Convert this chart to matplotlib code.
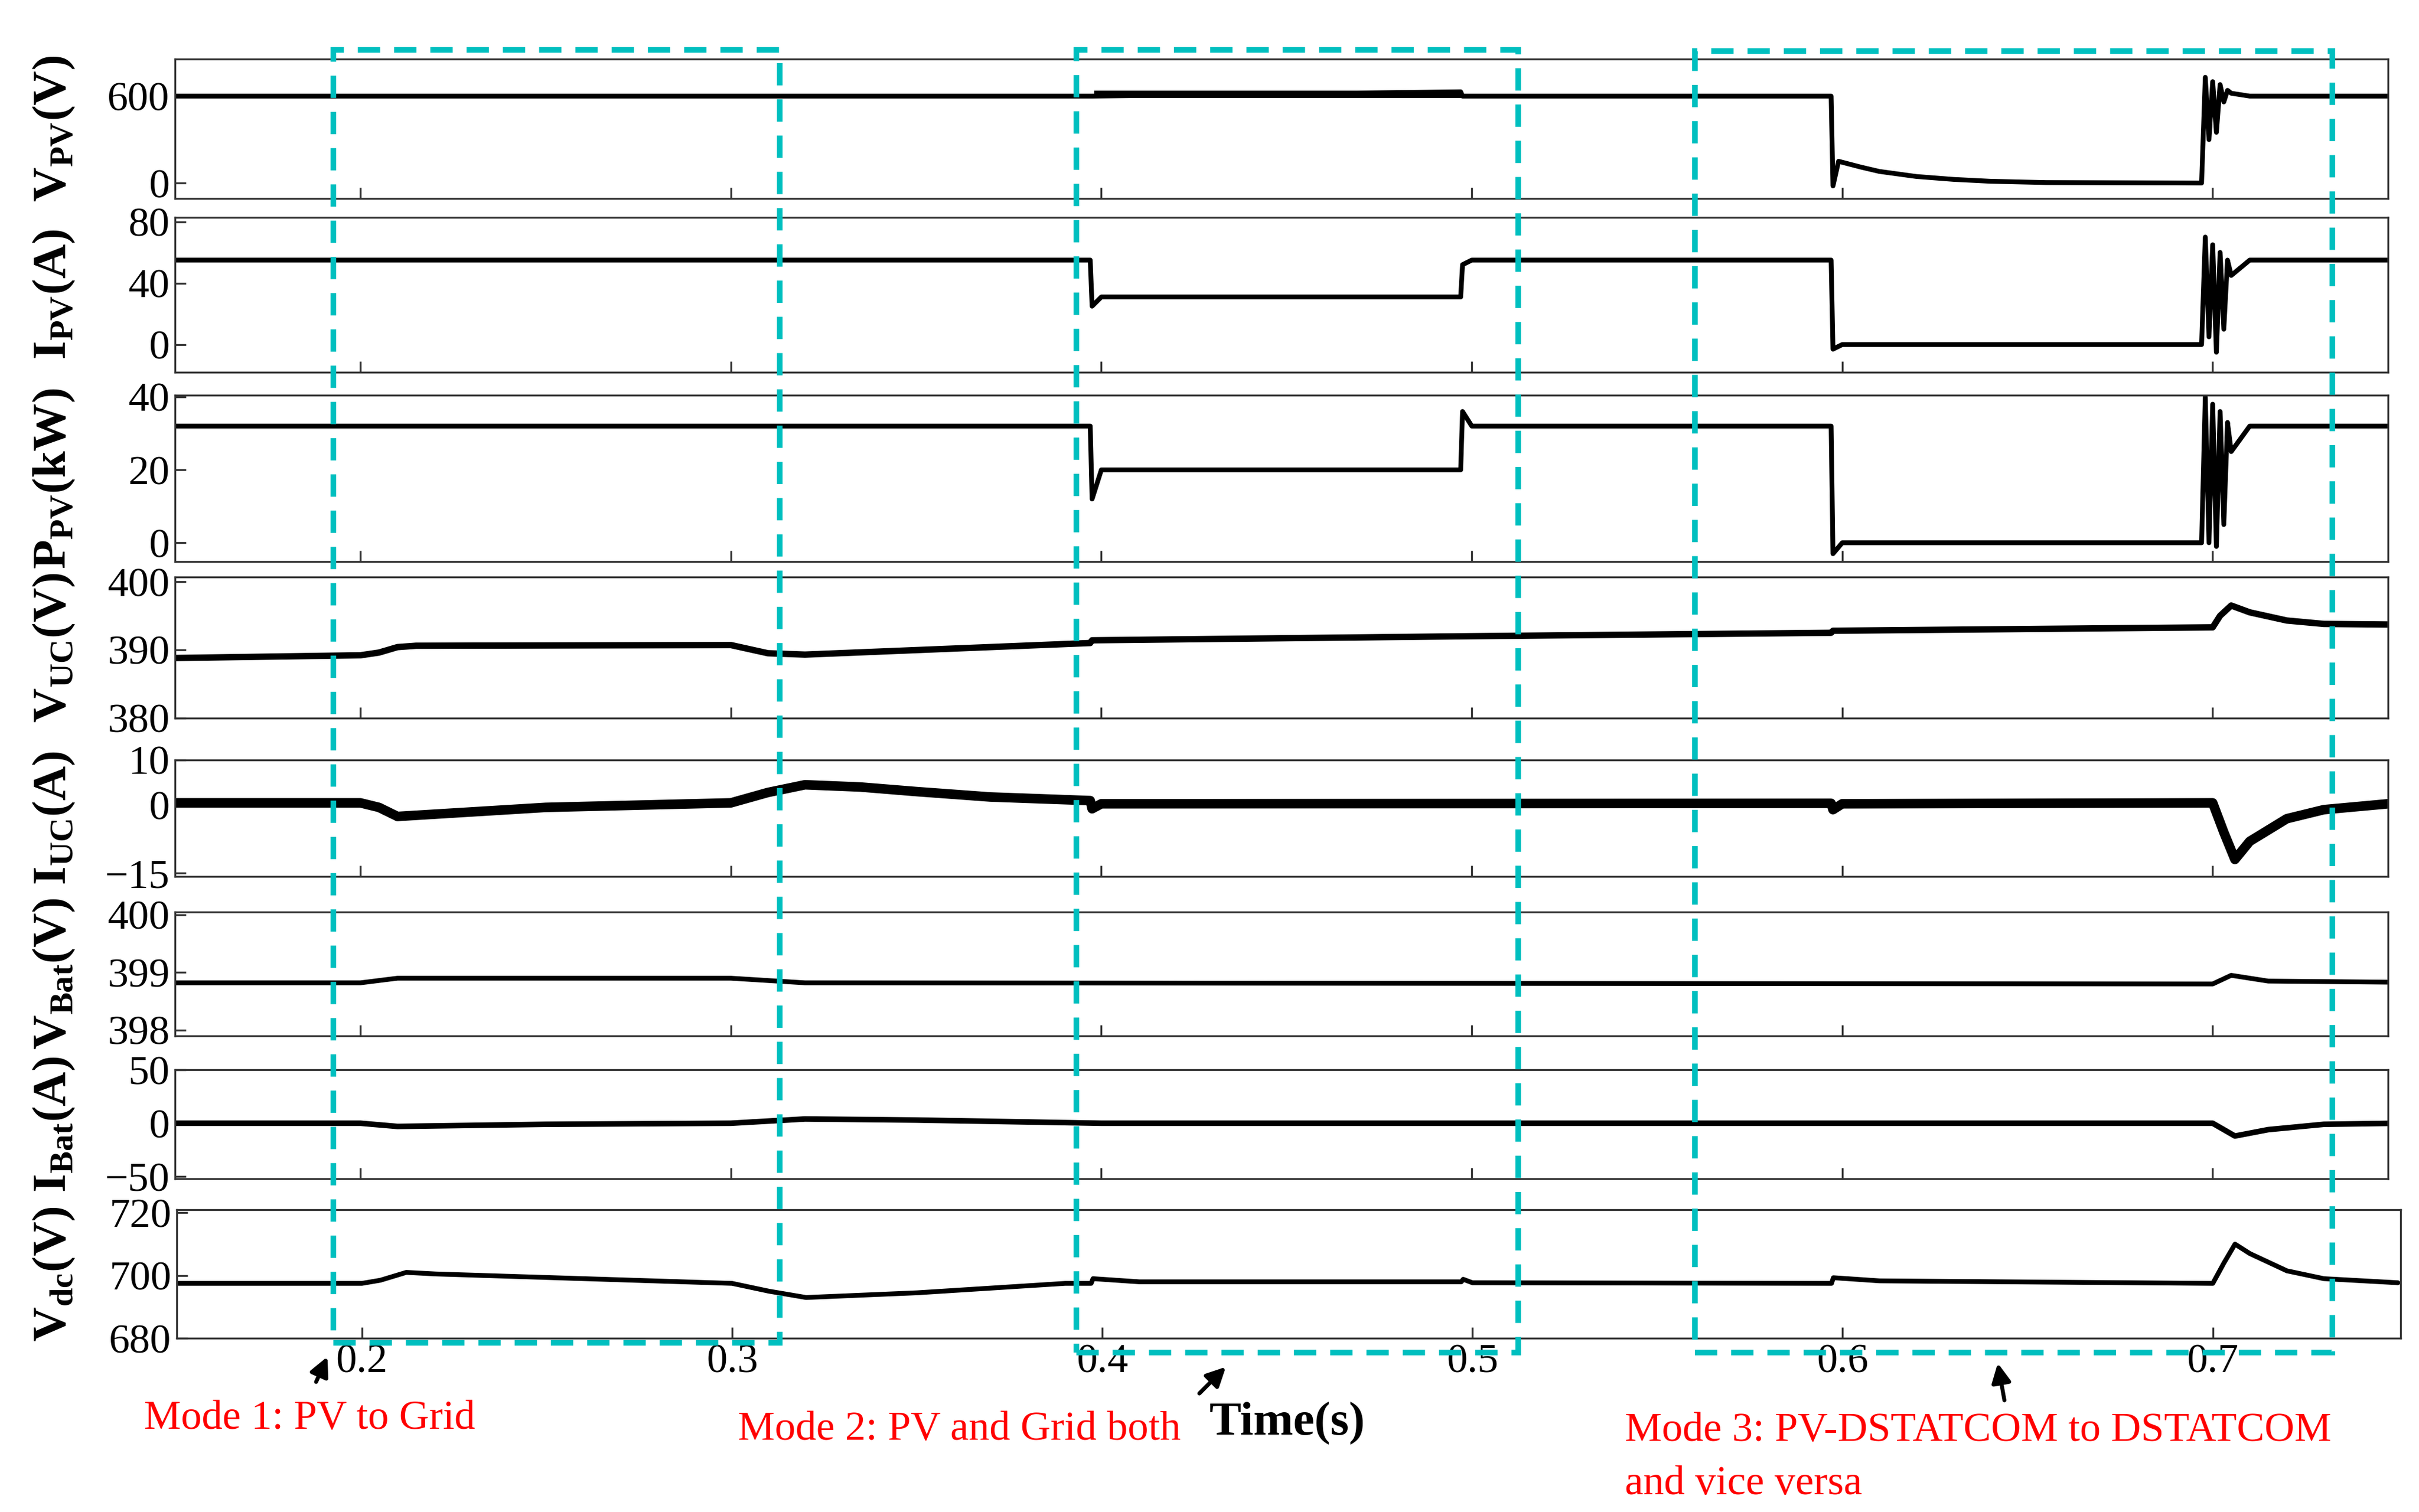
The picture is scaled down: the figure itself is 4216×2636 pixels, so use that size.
import numpy as np
import matplotlib.pyplot as plt
from matplotlib.patches import Rectangle

plt.rcParams['font.family'] = ['Liberation Serif', 'DejaVu Serif']
plt.rcParams['mathtext.fontset'] = 'custom'
plt.rcParams['mathtext.rm'] = 'Liberation Serif'
plt.rcParams['mathtext.bf'] = 'Liberation Serif:bold'

# ---- data (knots) ----
t_vpv = [0.15,0.397,0.3975,0.497,0.4975,0.597,0.5975,0.599,0.605,0.61,0.62,0.63,0.64,0.655,0.697,0.698,0.699,0.700,0.701,0.702,0.703,0.704,0.705,0.71,0.75]
v_vpv = [600,600,600,630,600,600,-20,150,110,80,45,25,12,3,0,730,300,700,350,680,560,640,620,600,600]
t_ipv = [0.15,0.397,0.3975,0.40,0.497,0.4975,0.50,0.597,0.5975,0.6,0.697,0.698,0.699,0.700,0.701,0.702,0.703,0.704,0.705,0.71,0.75]
v_ipv = [55,55,25,31,31,52,55,55,-3,0,0,70,5,65,-5,60,10,55,45,55,55]
t_ppv = [0.15,0.397,0.3975,0.40,0.497,0.4975,0.50,0.597,0.5975,0.6,0.697,0.698,0.699,0.700,0.701,0.702,0.703,0.704,0.705,0.71,0.75]
v_ppv = [32,32,12,20,20,36,32,32,-3,0,0,40,0,38,-1,36,5,33,25,32,32]
t_vuc = [0.15,0.2,0.205,0.21,0.215,0.3,0.305,0.31,0.32,0.397,0.3975,0.5,0.597,0.5975,0.7,0.702,0.705,0.71,0.72,0.73,0.75]
v_vuc = [388.8,389.2,389.6,390.4,390.6,390.7,390.1,389.5,389.3,391.0,391.4,392.0,392.5,392.8,393.3,395.0,396.5,395.5,394.3,393.8,393.7]
t_iuc = [0.15,0.2,0.205,0.21,0.22,0.25,0.3,0.31,0.32,0.335,0.35,0.37,0.397,0.3975,0.40,0.597,0.5975,0.60,0.70,0.703,0.706,0.71,0.72,0.73,0.75]
v_iuc = [0.5,0.5,-0.5,-2.5,-2,-0.5,0.5,2.8,4.5,4,3,1.8,1,-0.8,0.3,0.4,-1,0.3,0.5,-6,-12,-8,-3,-1,0.5]
t_vbat = [0.15,0.2,0.21,0.3,0.32,0.7,0.705,0.715,0.75]
v_vbat = [398.82,398.82,398.9,398.9,398.82,398.8,398.95,398.85,398.83]
t_ibat = [0.15,0.2,0.21,0.25,0.3,0.32,0.35,0.4,0.7,0.706,0.715,0.73,0.75]
v_ibat = [0,0,-3,-1,0,4,3,0,0,-12,-6,-1,0]
t_vdc = [0.15,0.2,0.205,0.212,0.22,0.3,0.31,0.32,0.35,0.39,0.397,0.3975,0.41,0.497,0.4975,0.5,0.597,0.5975,0.61,0.70,0.703,0.706,0.71,0.72,0.73,0.75]
v_vdc = [697.5,697.5,698.5,701,700.5,697.5,695,693,694.5,697.5,697.5,699,698,698,698.8,697.7,697.5,699.3,698.3,697.5,704,710,707,701.5,699,697.7]

panels = [
    ("V$_{\\mathbf{PV}}$(V)", t_vpv, v_vpv, (-107, 857), [0, 600], (38, 128)),
    ("I$_{\\mathbf{PV}}$(A)", t_ipv, v_ipv, (-18, 83), [0, 40, 80], (140, 240)),
    ("P$_{\\mathbf{PV}}$(kW)", t_ppv, v_ppv, (-5.1, 40.4), [0, 20, 40], (255, 362)),
    ("V$_{\\mathbf{UC}}$(V)", t_vuc, v_vuc, (380, 400.7), [380, 390, 400], (372, 463)),
    ("I$_{\\mathbf{UC}}$(A)", t_iuc, v_iuc, (-15.7, 10), [-15, 0, 10], (490, 565)),
    ("V$_{\\mathbf{Bat}}$(V)", t_vbat, v_vbat, (397.9, 400.05), [398, 399, 400], (588, 668)),
    ("I$_{\\mathbf{Bat}}$(A)", t_ibat, v_ibat, (-52, 50), [-50, 0, 50], (690, 760)),
    ("V$_{\\mathbf{dc}}$(V)", t_vdc, v_vdc, (680, 721), [680, 700, 720], (780, 863)),
]

W, H = 1560.0, 975.0
fig = plt.figure(figsize=(21.08, 13.18), dpi=200)
lw = [3, 3, 3, 4, 6, 3, 3.5, 3]
for i, (lab, t, v, yl, yt, (top, bot)) in enumerate(panels):
    x0 = 113 / W if i < 7 else 114 / W
    x1 = 1540 / W if i < 7 else 1548 / W
    xr = 0.7 + (x1 * W - 1427) / 2388
    ax = fig.add_axes([x0, 1 - bot / H, x1 - x0, (bot - top) / H])
    ax.plot(t, v, color='black', lw=lw[i], solid_capstyle='round')
    if i == 0:
        ax.fill_between([0.398, 0.497], [588, 588], [640, 640], color='black', lw=0)
    ax.set_xlim(0.15, xr)
    ax.set_ylim(*yl)
    ax.set_yticks(yt)
    ax.set_xticks([0.2, 0.3, 0.4, 0.5, 0.6, 0.7])
    ax.tick_params(labelsize=26, direction='in', length=7, width=1.2, color='#333333')
    if i < 7:
        ax.set_xticklabels([])
    else:
        ax.set_xticklabels(['0.2', '0.3', '0.4', '0.5', '0.6', '0.7'])
    for s in ax.spines.values():
        s.set_linewidth(1.2)
        s.set_color('#333333')
    fig.text(35 / W, 1 - (top + bot) / 2 / H, lab, rotation=90, ha='center', va='center',
             fontsize=30, fontweight='bold')

cyan = '#00bfbf'
for (a, b, c, d) in [(215, 32, 503, 866), (694, 32, 979, 872), (1093, 33, 1504, 872)]:
    fig.add_artist(Rectangle((a / W, 1 - d / H), (c - a) / W, (d - b) / H,
                             transform=fig.transFigure, fill=False, ec=cyan, lw=3.5,
                             ls=(0, (4, 2.5))))

fig.text(830 / W, 1 - 918 / H, 'Time(s)', fontsize=30, fontweight='bold', ha='center', va='center')
red = '#ff0000'
fig.text(93 / W, 1 - 915 / H, 'Mode 1: PV to Grid', color=red, fontsize=26, va='center')
fig.text(476 / W, 1 - 922 / H, 'Mode 2: PV and Grid both', color=red, fontsize=26, va='center')
fig.text(1048 / W, 1 - 923 / H, 'Mode 3: PV-DSTATCOM to DSTATCOM', color=red, fontsize=26, va='center')
fig.text(1048 / W, 1 - 957 / H, 'and vice versa', color=red, fontsize=26, va='center')
for (xs, ys, xe, ye) in [(203, 893, 212, 873), (772, 900, 792, 880), (1293, 905, 1288, 877)]:
    fig.add_artist(plt.Annotation('', xy=(xe / W, 1 - ye / H), xytext=(xs / W, 1 - ys / H),
                                  xycoords='figure fraction', textcoords='figure fraction',
                                  arrowprops=dict(arrowstyle='-|>', color='black', lw=2.5, mutation_scale=25)))

fig.savefig('out.png', dpi=200)
